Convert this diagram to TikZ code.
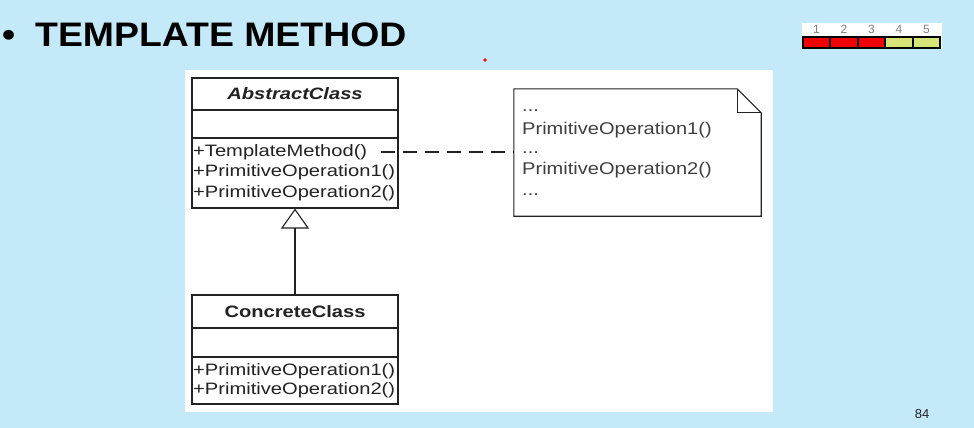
\documentclass[tikz,border=0pt]{standalone}
\usepackage{fontspec}
\setmainfont{Liberation Sans}
\newfontfamily\umlfont[FakeStretch=1.22]{Liberation Sans}
\newfontfamily\notefont[FakeStretch=1.18]{Liberation Sans}
\newfontfamily\titlefont[FakeStretch=1.10]{Liberation Sans}
\usetikzlibrary{arrows.meta}
\definecolor{bgblue}{RGB}{196,234,250}
\definecolor{boxline}{RGB}{34,34,34}
\definecolor{notetext}{RGB}{64,64,64}
\definecolor{cellred}{RGB}{240,0,0}
\definecolor{cellyel}{RGB}{214,228,120}
\tikzset{
  comp/.style={draw=boxline, line width=1.1pt, fill=white, inner sep=0pt, minimum width=206pt},
  clsname/.style={font=\umlfont\bfseries\fontsize{16.5}{20}\selectfont, text=boxline},
  optext/.style={anchor=west, inner sep=0pt, font=\umlfont\fontsize{16.5}{20}\selectfont, text=boxline},
  notetxt/.style={anchor=west, inner sep=0pt, font=\notefont\fontsize{17}{20}\selectfont, text=notetext},
  cell/.style={draw=black, line width=1.5pt, minimum width=27pt, minimum height=11pt, inner sep=0pt},
  numtxt/.style={inner sep=0pt, font=\fontsize{12}{13}\selectfont, text=gray},
}
\begin{document}
\begin{tikzpicture}[x=1pt,y=-1pt]
\useasboundingbox (0,0) rectangle (974,428);
\fill[bgblue] (0,0) rectangle (974,428);
\fill[white] (185,70) rectangle (773,412);

% title
\node[inner sep=0pt, anchor=base west, font=\titlefont\bfseries\fontsize{34}{40}\selectfont] (bullet) at (2,47) {•};
\node[inner sep=0pt, anchor=base west, font=\titlefont\bfseries\fontsize{34}{40}\selectfont] (title) at (35,47) {TEMPLATE METHOD};

% red dot
\fill[red] (485,60) circle (1.8);

% rating bar
\fill[white] (802,23) rectangle (942,49);
\node[cell, fill=cellred] (c1) at (816.5,42.5) {};
\node[cell, fill=cellred] (c2) at (844,42.5) {};
\node[cell, fill=cellred] (c3) at (871.5,42.5) {};
\node[cell, fill=cellyel] (c4) at (899,42.5) {};
\node[cell, fill=cellyel] (c5) at (926.5,42.5) {};
\node[numtxt] (n1) at (816.5,29.5) {1};
\node[numtxt] (n2) at (844,29.5) {2};
\node[numtxt] (n3) at (871.5,29.5) {3};
\node[numtxt] (n4) at (899,29.5) {4};
\node[numtxt] (n5) at (926.5,29.5) {5};

% AbstractClass
\node[comp, minimum height=32pt] (absname) at (295,94) {};
\node[clsname, font=\umlfont\bfseries\itshape\fontsize{16.5}{20}\selectfont] (abstitle) at (295,94) {AbstractClass};
\node[comp, minimum height=28pt] (absattr) at (295,124) {};
\node[comp, minimum height=70pt] (absops) at (295,173) {};
\node[optext] (tm) at (193,152) {+TemplateMethod()};
\node[optext] (apo1) at (193,172.5) {+PrimitiveOperation1()};
\node[optext] (apo2) at (193,193) {+PrimitiveOperation2()};

% ConcreteClass
\node[comp, minimum height=33pt] (conname) at (295,311.5) {};
\node[clsname] (contitle) at (295,311.5) {ConcreteClass};
\node[comp, minimum height=29pt] (conattr) at (295,342.5) {};
\node[comp, minimum height=47pt] (conops) at (295,380.5) {};
\node[optext] (cpo1) at (193,371) {+PrimitiveOperation1()};
\node[optext] (cpo2) at (193,390) {+PrimitiveOperation2()};

% generalization
\draw[boxline, line width=1.1pt, -{Triangle[open, width=28pt, length=20pt, line width=1.1pt]}] (conname.north) -- (absops.south);

% note
\node[inner sep=0pt, minimum width=247pt, minimum height=127pt] (note) at (637.5,152.5) {};
\draw[boxline, line width=1.1pt, fill=white] (note.south west) -- (note.north west) -- ([xshift=-24pt]note.north east) -- ([yshift=-24pt]note.north east) -- (note.south east) -- cycle;
\draw[boxline, line width=1.1pt] ([xshift=-24pt]note.north east) -- ([xshift=-24pt,yshift=-24pt]note.north east) -- ([yshift=-24pt]note.north east);
\node[notetxt] (d1) at (522,111) {...};
\node[notetxt] (npo1) at (522,130) {PrimitiveOperation1()};
\node[notetxt] (d2) at (522,153) {...};
\node[notetxt] (npo2) at (522,170) {PrimitiveOperation2()};
\node[notetxt] (d3) at (522,195) {...};

% dependency dashed line
\draw[boxline, line width=1.1pt, dash pattern=on 14pt off 8pt] ([xshift=14pt]tm.east) -- (note.west |- tm.east);

% page number
\node[inner sep=0pt, font=\fontsize{13}{15}\selectfont, text=boxline] (page) at (922,414) {84};
\end{tikzpicture}
\end{document}
